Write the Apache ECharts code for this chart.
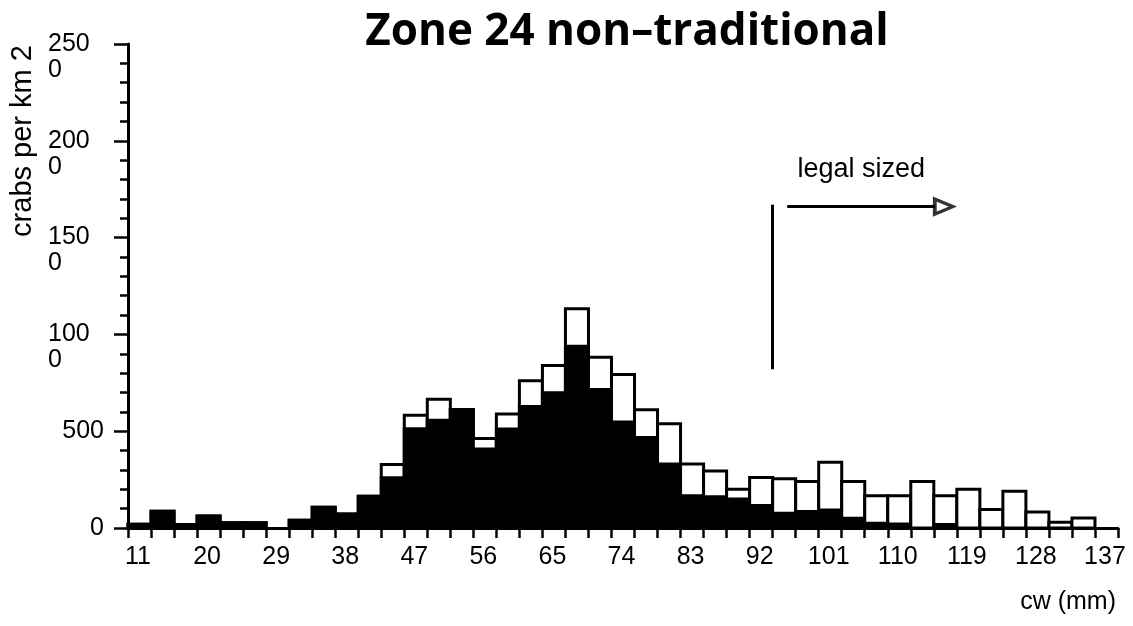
<!DOCTYPE html>
<html>
<head>
<meta charset="utf-8">
<script src="https://cdn.jsdelivr.net/npm/echarts@6/dist/echarts.min.js"></script>
<style>
  html, body { margin: 0; padding: 0; background: #fff; }
  #chart { width: 1133px; height: 626px; }
</style>
</head>
<body>
<div id="chart"></div>
<script>
// Carapace-width bins (mm), 3 mm wide, lower edges
const binStarts = [11, 14, 17, 20, 23, 26, 29, 32, 35, 38, 41, 44, 47, 50, 53, 56, 59, 62, 65, 68, 71,
                   74, 77, 80, 83, 86, 89, 92, 95, 98, 101, 104, 107, 110, 113, 116, 119, 122, 125, 128, 131, 134, 137];
const binWidth = 3;

// Total density per bin (crabs per km2) - outline height
const totalDensity = [20, 86, 18, 62, 27, 27, 0, 40, 107, 72, 164, 328, 582, 665, 612, 462, 589, 761, 839, 1133, 882,
                      793, 611, 539, 330, 295, 200, 261, 254, 240, 340, 240, 166, 166, 240, 166, 200, 95, 190, 83, 30, 52, 0];
// Shaded (black) portion of each bin
const shadedDensity = [20, 86, 18, 62, 27, 27, 0, 40, 107, 72, 164, 259, 513, 557, 612, 408, 511, 628, 698, 939, 715,
                       547, 468, 330, 166, 162, 150, 116, 76, 85, 93, 50, 24, 21, 0, 18, 0, 0, 0, 0, 0, 0, 0];

// Labelled x ticks and y ticks
const xLabelValues = [11, 20, 29, 38, 47, 56, 65, 74, 83, 92, 101, 110, 119, 128, 137];
const yTickValues = [0, 500, 1000, 1500, 2000, 2500];

// Legal-size marker (mm) and arrow
const legalSize = 95;
const legalMarkSpan = [820, 1670];
const arrowY = 1660;
const arrowSpan = [96.9, 116.2];
const arrowHeadX = 117.3;

const FONT = 'Liberation Sans, Arial, Helvetica, sans-serif';

const histData = binStarts.map((s, i) => [s, s + binWidth, totalDensity[i], shadedDensity[i]]);

const chart = echarts.init(document.getElementById('chart'), null, { renderer: 'canvas' });

chart.setOption({
  animation: false,
  backgroundColor: '#ffffff',
  grid: { left: 128, right: 15, top: 44, bottom: 98, containLabel: false },
  xAxis: {
    type: 'value',
    min: 11,
    max: 140,
    interval: 3,
    splitLine: { show: false },
    axisLine: { show: true, onZero: false, lineStyle: { color: '#000', width: 3 } },
    axisTick: { show: true, inside: false, length: 10, lineStyle: { color: '#000', width: 2.5 } },
    axisLabel: {
      show: true,
      margin: 17,
      color: '#000',
      fontFamily: FONT,
      fontSize: 25,
      padding: [0, 0, 0, 20],
      formatter: v => (xLabelValues.indexOf(Math.round(v)) >= 0 ? String(Math.round(v)) : '')
    }
  },
  yAxis: {
    type: 'value',
    min: yTickValues[0],
    max: yTickValues[yTickValues.length - 1],
    interval: 500,
    splitLine: { show: false },
    axisLine: { show: true, lineStyle: { color: '#000', width: 3 } },
    axisTick: { show: true, inside: false, length: 14, lineStyle: { color: '#000', width: 2.5 } },
    minorTick: { show: true, splitNumber: 5, length: 8, lineStyle: { color: '#000', width: 2.5 } },
    axisLabel: {
      margin: 24,
      color: '#000',
      fontFamily: FONT,
      fontSize: 25,
      align: 'right',
      formatter: v => {
        const s = String(v);
        if (s.length < 4) return s;
        // four-digit values wrap after three digits
        return '{w| }\n{w|' + s.slice(0, 3) + '}\n{w|' + s.slice(3) + '}';
      },
      rich: {
        w: { width: 56, align: 'left', lineHeight: 26, fontFamily: FONT, fontSize: 25, color: '#000' }
      }
    }
  },
  graphic: [
    {
      type: 'text', x: 627, y: 32,
      style: { text: 'Zone 24 non\u2013traditional', font: 'bold 44px "Open Sans", "Noto Sans", sans-serif',
               fill: '#000', align: 'center', verticalAlign: 'middle' }
    },
    {
      type: 'text', x: 23, y: 141, rotation: Math.PI / 2,
      style: { text: 'crabs per km 2', font: '29px ' + FONT, fill: '#000', align: 'center', verticalAlign: 'middle' }
    },
    {
      type: 'text', right: 17, top: 590,
      style: { text: 'cw (mm)', font: '25px ' + FONT, fill: '#000' }
    }
  ],
  series: [
    {
      type: 'custom',
      name: 'density',
      data: histData,
      encode: { x: [0, 1], y: [2, 3] },
      renderItem: function (params, api) {
        const x0 = api.value(0), x1 = api.value(1);
        const total = api.value(2), shaded = api.value(3);
        if (!total) return null;
        const base = api.coord([x0, 0]);
        const top = api.coord([x1, total]);
        const mid = api.coord([x1, shaded]);
        const children = [{
          type: 'rect',
          shape: { x: base[0], y: top[1], width: top[0] - base[0], height: base[1] - top[1] },
          style: { fill: '#fff', stroke: '#000', lineWidth: 3 }
        }];
        if (shaded > 0) {
          children.push({
            type: 'rect',
            shape: { x: base[0], y: mid[1], width: mid[0] - base[0], height: base[1] - mid[1] },
            style: { fill: '#000', stroke: '#000', lineWidth: 3 }
          });
        }
        return { type: 'group', children: children };
      }
    },
    {
      type: 'scatter',
      name: 'legal sized',
      data: [[arrowHeadX, arrowY]],
      symbol: 'triangle',
      symbolRotate: -90,
      symbolSize: [15, 18],
      itemStyle: { color: '#fff', borderColor: '#000', borderWidth: 3.5 },
      silent: true,
      z: 5,
      markLine: {
        silent: true,
        symbol: ['none', 'none'],
        lineStyle: { color: '#000', width: 3, type: 'solid' },
        label: { show: false },
        data: [
          [{ coord: [legalSize, legalMarkSpan[0]] }, { coord: [legalSize, legalMarkSpan[1]] }],
          [{ coord: [arrowSpan[0], arrowY], label: { show: true, position: 'middle', formatter: 'legal sized',
              distance: 24, color: '#000', fontFamily: FONT, fontSize: 27 } },
           { coord: [arrowSpan[1], arrowY] }]
        ]
      }
    }
  ]
});
</script>
</body>
</html>
